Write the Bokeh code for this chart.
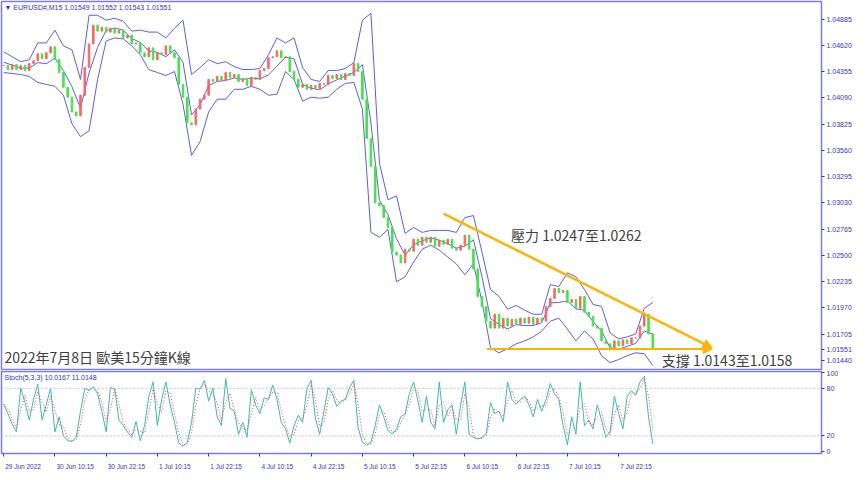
import numpy as np
import pandas as pd
from bokeh.plotting import figure
from bokeh.layouts import column
from bokeh.models import Range1d, FixedTicker, Label, Arrow, NormalHead, Span, ColumnDataSource
from bokeh.embed import file_html
from bokeh.resources import INLINE

# ---------------- data (hourly closes) ----------------
closes = [
    1.04417, 1.04377, 1.04427, 1.04377, 1.04417, 1.04367, 1.04437, 1.04466, 1.04536, 1.04486,
    1.04546, 1.04606, 1.04476, 1.04347, 1.04198, 1.04098, 1.03949, 1.03909, 1.04118, 1.04397,
    1.04636, 1.04825, 1.04765, 1.04805, 1.04755, 1.04795, 1.04745, 1.04775, 1.04696, 1.04725,
    1.04636, 1.04646, 1.04546, 1.04506, 1.04596, 1.04476, 1.04546, 1.04526, 1.04616, 1.04546,
    1.04496, 1.04227, 1.04098, 1.03839, 1.03819, 1.03978, 1.04078, 1.04118, 1.04277, 1.04257,
    1.04307, 1.04267, 1.04347, 1.04297, 1.04327, 1.04257, 1.04287, 1.04217, 1.04297, 1.04277,
    1.04367, 1.04387, 1.04496, 1.04506, 1.04566, 1.04496, 1.04506, 1.04357, 1.04277, 1.04198,
    1.04227, 1.04178, 1.04217, 1.04188, 1.04237, 1.04227, 1.04317, 1.04287, 1.04327, 1.04277,
    1.04337, 1.04317, 1.04437, 1.04357, 1.04078, 1.03680, 1.03401, 1.03032, 1.03002, 1.02883,
    1.02783, 1.02534, 1.02504, 1.02425, 1.02564, 1.02544, 1.02664, 1.02604, 1.02684, 1.02634,
    1.02684, 1.02594, 1.02654, 1.02614, 1.02664, 1.02574, 1.02554, 1.02604, 1.02704, 1.02564,
    1.02365, 1.02086, 1.01986, 1.01837, 1.01767, 1.01907, 1.01767, 1.01867, 1.01787, 1.01857,
    1.01807, 1.01867, 1.01817, 1.01877, 1.01807, 1.01867, 1.01837, 1.01986, 1.02066, 1.02166,
    1.02126, 1.02146, 1.02026, 1.02056, 1.01967, 1.02086, 1.01927, 1.01887, 1.01787, 1.01767,
    1.01638, 1.01608, 1.01548, 1.01638, 1.01588, 1.01648, 1.01608, 1.01668, 1.01668, 1.01787,
    1.01907, 1.01708, 1.01551,
]

# Bollinger bands, read every 2 hours
upper_band = [
    1.04556, 1.04506, 1.04456, 1.04476, 1.04646, 1.04646, 1.04775, 1.04616, 1.04576, 1.04277,
    1.04925, 1.04925, 1.04875, 1.04895, 1.04865, 1.04765, 1.04775, 1.04755, 1.04755, 1.04696,
    1.04795, 1.04875, 1.04327, 1.04397, 1.04476, 1.04437, 1.04456, 1.04407, 1.04377, 1.04377,
    1.04387, 1.04526, 1.04696, 1.04646, 1.04696, 1.04397, 1.04277, 1.04257, 1.04367, 1.04367,
    1.04387, 1.04447, 1.04875, 1.04945, 1.03431, 1.03062, 1.03102, 1.02723, 1.02783, 1.02733,
    1.02753, 1.02753, 1.02753, 1.02733, 1.02883, 1.02903, 1.02534, 1.02156, 1.02086, 1.01957,
    1.01996, 1.01947, 1.01907, 1.01907, 1.02206, 1.02186, 1.02325, 1.02285, 1.02156, 1.02006,
    1.01986, 1.01718, 1.01658, 1.01678, 1.01708, 1.01967, 1.02026,
]
lower_band = [
    1.04347, 1.04337, 1.04327, 1.04307, 1.04247, 1.04227, 1.04208, 1.04118, 1.03829, 1.03700,
    1.03759, 1.04277, 1.04666, 1.04696, 1.04686, 1.04616, 1.04526, 1.04377, 1.04347, 1.04317,
    1.04357, 1.04028, 1.03510, 1.03650, 1.03949, 1.04078, 1.04078, 1.04178, 1.04178, 1.04208,
    1.04178, 1.04118, 1.04128, 1.04357, 1.04277, 1.04058, 1.04098, 1.04088, 1.04098, 1.04178,
    1.04237, 1.04247, 1.03978, 1.02733, 1.02684, 1.02763, 1.02235, 1.02285, 1.02435, 1.02564,
    1.02604, 1.02554, 1.02484, 1.02415, 1.02305, 1.02415, 1.02036, 1.01568, 1.01518, 1.01558,
    1.01608, 1.01638, 1.01678, 1.01737, 1.01837, 1.01867, 1.01757, 1.01638, 1.01737, 1.01658,
    1.01488, 1.01419, 1.01449, 1.01488, 1.01518, 1.01508, 1.01389,
]

# Stochastic %K main line, one reading per hour
stoch_k = [
    60, 48, 35, 25, 80, 62, 40, 66, 85, 40,
    60, 80, 25, 44, 20, 14, 13, 18, 51, 80,
    77, 82, 73, 51, 25, 81, 79, 40, 33, 25,
    18, 38, 14, 33, 70, 88, 33, 66, 88, 59,
    37, 11, 7, 12, 37, 80, 79, 90, 64, 80,
    44, 33, 92, 55, 51, 22, 37, 18, 78, 59,
    48, 68, 66, 84, 66, 37, 29, 11, 33, 46,
    37, 79, 90, 42, 22, 51, 81, 73, 57, 64,
    66, 81, 90, 30, 12, 8, 12, 33, 59, 44,
    27, 22, 29, 44, 48, 73, 88, 64, 37, 70,
    37, 29, 88, 37, 53, 59, 22, 59, 88, 22,
    18, 16, 18, 23, 62, 48, 51, 38, 88, 66,
    60, 66, 70, 59, 44, 66, 51, 66, 86, 73,
    66, 33, 9, 44, 22, 88, 33, 40, 29, 59,
    40, 18, 25, 70, 48, 29, 70, 77, 71, 88,
    95, 44, 10,
]

price_ticks = [1.04885, 1.04620, 1.04355, 1.04090, 1.03825, 1.03560, 1.03295,
               1.03030, 1.02765, 1.02500, 1.02235, 1.01970, 1.01705, 1.01440]
date_tick_idx = [0, 12, 24, 36, 48, 60, 72, 84, 96, 108, 120, 132, 144]
date_tick_labels = ["29 Jun 2022", "30 Jun 10:15", "30 Jun 22:15", "1 Jul 10:15", "1 Jul 22:15",
                    "4 Jul 10:15", "4 Jul 22:15", "5 Jul 10:15", "5 Jul 22:15", "6 Jul 10:15",
                    "6 Jul 22:15", "7 Jul 10:15", "7 Jul 22:15"]
stoch_ticks = [0, 20, 80, 100]
last_price = 1.01551

# annotation anchors (index, price)
resist_start = (103.0, 1.02923)
resist_end = (165.9, 1.01568)
support_start = (113.2, 1.01555)
support_end = (165.9, 1.01555)
resist_text_pos = (118.8, 1.02704)
support_text_pos = (154.1, 1.01440)
title_text_pos = (0.2, 1.01478)

# ---------------- styling ----------------
AXIS_BLUE = "#3434C4"
FRAME_BLUE = "#7B7BEB"
BB_BLUE = "#5B5BFF"
UP_RED = "#FF6464"
DN_GREEN = "#3EE83E"
ORANGE = "#FFB300"
SMALL_FONT = "Liberation Sans"
CJK_FONT = "Noto Sans CJK TC"
FIG_W = 857
RIGHT_W = 36
DATE_FONT_PX = 6.5

idx = np.arange(len(closes))
opens = [closes[0]] + closes[:-1]
c = np.array(closes)
o = np.array(opens)
candle_src = ColumnDataSource(dict(
    x=idx,
    top=np.maximum(o, c),
    bottom=np.minimum(o, c),
    color=[UP_RED if cc >= oo else DN_GREEN for oo, cc in zip(o, c)],
))

band_idx = idx[::2]
U = np.array(upper_band)
L = np.array(lower_band)
M = (U + L) / 2

xr = Range1d(-0.5, 191.5)

p1 = figure(width=FIG_W, height=370, x_range=xr, y_range=Range1d(1.01339, 1.05064),
            y_axis_location="right", x_axis_location=None, toolbar_location=None,
            output_backend="svg", min_border_left=1, min_border_right=RIGHT_W,
            min_border_top=1, min_border_bottom=0)
p1.grid.visible = False
p1.outline_line_color = FRAME_BLUE
p1.outline_line_width = 1.5
p1.background_fill_color = "white"
p1.border_fill_color = "white"

ya_ticks = price_ticks + [last_price]
ya = p1.yaxis[0]
ya.ticker = FixedTicker(ticks=ya_ticks)
ya.major_label_overrides = {t: f"{t:.5f}" for t in ya_ticks}
ya.major_label_text_font = SMALL_FONT
ya.major_label_text_font_size = "7px"
ya.major_label_text_color = AXIS_BLUE
ya.major_tick_line_color = AXIS_BLUE
ya.major_tick_out = 3
ya.major_tick_in = 0
ya.minor_tick_line_color = None
ya.axis_line_color = None
ya.major_label_standoff = 2

# Bollinger bands
p1.line(band_idx, U, color=BB_BLUE, line_width=1)
p1.line(band_idx, L, color=BB_BLUE, line_width=1)
p1.line(band_idx, M, color=BB_BLUE, line_width=1)

# candles
p1.vbar(x="x", width=0.36, top="top", bottom="bottom", fill_color="color",
        line_color="color", line_width=1, source=candle_src)

# trend lines
p1.add_layout(Arrow(end=NormalHead(size=9, fill_color=ORANGE, line_color=ORANGE),
                    x_start=support_start[0], y_start=support_start[1],
                    x_end=support_end[0], y_end=support_end[1],
                    line_color=ORANGE, line_width=2))
p1.add_layout(Arrow(end=NormalHead(size=9, fill_color=ORANGE, line_color=ORANGE),
                    x_start=resist_start[0], y_start=resist_start[1],
                    x_end=resist_end[0], y_end=resist_end[1],
                    line_color=ORANGE, line_width=2.5))

p1.add_layout(Label(x=resist_text_pos[0], y=resist_text_pos[1], text="壓力 1.0247至1.0262",
                    text_font=CJK_FONT, text_font_size="14px", text_color="#404040",
                    text_baseline="middle", text_align="left"))
p1.add_layout(Label(x=support_text_pos[0], y=support_text_pos[1], text="支撐 1.0143至1.0158",
                    text_font=CJK_FONT, text_font_size="14px", text_color="#404040",
                    text_baseline="middle", text_align="left"))
p1.add_layout(Label(x=title_text_pos[0], y=title_text_pos[1], text="2022年7月8日 歐美15分鐘K線",
                    text_font=CJK_FONT, text_font_size="14px", text_color="#404040",
                    text_baseline="middle", text_align="left"))
p1.add_layout(Label(x=xr.start, y=1.05064, x_offset=3, y_offset=-2,
                    text="▼ EURUSD#,M15  1.01549 1.01552 1.01543 1.01551",
                    text_font=SMALL_FONT, text_font_size="7px", text_color=AXIS_BLUE,
                    text_baseline="top", text_align="left"))

# ---------------- stochastic panel ----------------
K = pd.Series(stoch_k, dtype=float)
D = K.rolling(2, min_periods=1).mean()

p2 = figure(width=FIG_W, height=102, x_range=xr, y_range=Range1d(-2.2, 101.1),
            y_axis_location="right", toolbar_location=None, output_backend="svg",
            min_border_left=1, min_border_right=RIGHT_W, min_border_top=1, min_border_bottom=14)
p2.grid.visible = False
p2.outline_line_color = FRAME_BLUE
p2.outline_line_width = 1.5
for lv in (20, 80):
    p2.add_layout(Span(location=lv, dimension="width", line_color="#BDBDBD",
                       line_dash="2 2", line_width=1))
p2.line(idx, K.values, color="#38BDB3", line_width=1)
p2.line(idx, D.values, color="#FF3B3B", line_width=1, line_dash="1 2")

ya2 = p2.yaxis[0]
ya2.ticker = FixedTicker(ticks=stoch_ticks)
ya2.major_label_text_font = SMALL_FONT
ya2.major_label_text_font_size = "7px"
ya2.major_label_text_color = AXIS_BLUE
ya2.major_tick_line_color = AXIS_BLUE
ya2.major_tick_out = 3
ya2.major_tick_in = 0
ya2.minor_tick_line_color = None
ya2.axis_line_color = None
ya2.major_label_standoff = 2

# date labels: MT4 writes them starting at the tick, so each label is centred
# half its (estimated) width to the right of its tick mark
CHAR_EM = {" ": 0.278, ":": 0.278, "J": 0.5, "l": 0.222}
px_per_idx = (FIG_W - 1 - RIGHT_W) / (xr.end - xr.start)


def label_shift(s):
    w = sum(CHAR_EM.get(ch, 0.556) for ch in s) * DATE_FONT_PX
    return round((w / 2 + 1.5) / px_per_idx, 3)


label_pos = [round(t + label_shift(lab), 3) for t, lab in zip(date_tick_idx, date_tick_labels)]

xa = p2.xaxis[0]
xa.ticker = FixedTicker(ticks=label_pos, minor_ticks=date_tick_idx)
xa.major_label_overrides = {pos: lab for pos, lab in zip(label_pos, date_tick_labels)}
xa.major_label_text_font = SMALL_FONT
xa.major_label_text_font_size = f"{DATE_FONT_PX}px"
xa.major_label_text_color = AXIS_BLUE
xa.major_label_standoff = 3
xa.major_tick_line_color = None
xa.minor_tick_line_color = AXIS_BLUE
xa.minor_tick_out = 3
xa.minor_tick_in = 0
xa.axis_line_color = None

p2.add_layout(Label(x=xr.start, y=101.1, x_offset=3, y_offset=-2,
                    text="Stoch(5,3,3) 10.0167 11.0148",
                    text_font=SMALL_FONT, text_font_size="7px", text_color=AXIS_BLUE,
                    text_baseline="top", text_align="left"))

layout = column(p1, p2, spacing=0)
open("out.html", "w").write(file_html(layout, INLINE))
